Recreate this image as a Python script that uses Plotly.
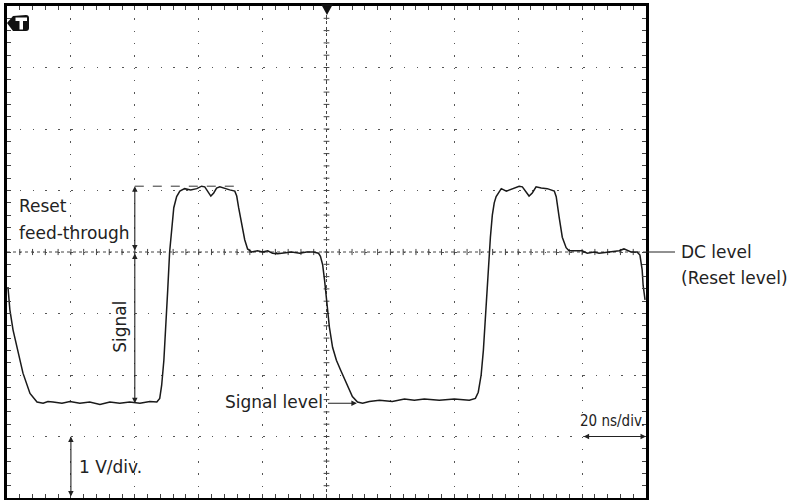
import plotly.graph_objects as go

# ---- data: time in ns, voltage in V ----
time_ns = [0.3, 0.9, 1.9, 3.4, 5.0, 7.2, 9.4, 11.3, 12.8, 14.4, 17.2, 19.7, 22.8, 25.9,
           29.1, 32.2, 35.3, 38.4, 41.6, 44.7, 46.9, 47.8, 48.4, 49.1, 49.7, 50.3, 50.9,
           51.6, 52.2, 53.1, 54.1, 55.6, 57.5, 59.4, 60.9, 61.9, 62.8, 63.8, 64.7, 65.6,
           66.6, 68.1, 69.7, 71.3, 71.9, 72.5, 73.4, 74.4, 75.3, 76.6, 78.4, 80.0, 81.6,
           83.1, 84.7, 86.9, 89.1, 91.6, 93.8, 95.9, 97.5, 98.1, 98.8, 99.4, 100.0, 100.9,
           101.9, 103.1, 104.4, 106.3, 108.1, 109.7, 111.3, 113.4, 116.6, 120.6, 124.4,
           127.5, 130.6, 135.3, 140.0, 144.7, 146.6, 147.5, 148.4, 149.1, 149.7, 150.3,
           150.9, 151.3, 151.9, 152.5, 153.1, 154.7, 156.3, 158.1, 160.3, 161.3, 162.5,
           163.4, 164.4, 165.6, 167.2, 169.1, 171.3, 171.9, 172.8, 173.8, 175.0, 175.9,
           178.1, 180.0, 181.6, 183.8, 185.3, 188.4, 191.6, 193.1, 195.3, 197.2, 198.1,
           198.8, 199.1, 199.7]
volts = [-0.57, -0.94, -1.27, -1.60, -1.97, -2.30, -2.44, -2.46, -2.43, -2.44, -2.46, -2.43,
         -2.46, -2.44, -2.48, -2.44, -2.46, -2.44, -2.46, -2.43, -2.44, -2.38, -2.17, -1.76,
         -1.27, -0.62, 0.00, 0.44, 0.72, 0.90, 0.99, 1.03, 1.01, 1.03, 1.07, 1.06, 0.98,
         0.91, 0.96, 1.04, 1.06, 1.03, 1.01, 0.99, 0.91, 0.72, 0.44, 0.20, 0.05, 0.00,
         0.02, 0.00, 0.02, -0.02, -0.03, -0.02, 0.00, -0.02, 0.00, 0.00, -0.02, -0.07,
         -0.21, -0.46, -0.78, -1.22, -1.55, -1.76, -1.92, -2.13, -2.35, -2.44, -2.46,
         -2.43, -2.41, -2.43, -2.39, -2.41, -2.39, -2.41, -2.39, -2.41, -2.38, -2.28,
         -2.00, -1.60, -1.11, -0.54, 0.00, 0.24, 0.60, 0.80, 0.90, 1.03, 0.99, 1.03,
         1.07, 1.06, 0.98, 0.91, 0.96, 1.06, 1.04, 1.03, 0.99, 0.90, 0.57, 0.24, 0.07,
         0.02, 0.02, 0.02, -0.02, 0.00, -0.02, 0.00, 0.02, 0.05, 0.00, 0.00, -0.05,
         -0.29, -0.54, -0.78]

x_range = [0, 200]          # 10 div x 20 ns/div
y_range = [-4, 4]           # 8 div x 1 V/div
reset_peak = 1.07
signal_level = -2.46
dc_level = 0.0

INK = "#222222"
FONT = "DejaVu Sans, Verdana, sans-serif"
NARROW = "DejaVu Sans Condensed, DejaVu Sans, sans-serif"

fig = go.Figure()
fig.add_trace(go.Scatter(x=time_ns, y=volts, mode="lines",
                         line=dict(color="#1a1a1a", width=1.5),
                         hoverinfo="skip", showlegend=False))

fig.update_layout(width=791, height=500, margin=dict(l=7, r=145, t=6, b=2),
                  paper_bgcolor="white", plot_bgcolor="white", showlegend=False)

fig.update_xaxes(range=x_range, tick0=0, dtick=20, showticklabels=False,
                 ticks="inside", ticklen=4, tickcolor="#444", tickwidth=1,
                 showgrid=True, gridcolor="#555", gridwidth=1.2, griddash="1.5px,10.8px",
                 zeroline=False, showline=True, linecolor="black", linewidth=3,
                 mirror="allticks",
                 minor=dict(dtick=4, ticks="inside", ticklen=4, tickcolor="#444",
                            showgrid=False))
fig.update_yaxes(range=y_range, tick0=-4, dtick=1, showticklabels=False,
                 ticks="inside", ticklen=4, tickcolor="#444", tickwidth=1,
                 showgrid=True, gridcolor="#555", gridwidth=1.2, griddash="1.5px,11.3px",
                 zeroline=False, showline=True, linecolor="black", linewidth=3,
                 mirror="allticks",
                 minor=dict(dtick=0.2, ticks="inside", ticklen=4, tickcolor="#444",
                            showgrid=False))

# center graticule lines with small tick marks
cx = (x_range[0] + x_range[1]) / 2
cy = (y_range[0] + y_range[1]) / 2
fig.add_shape(type="line", x0=cx, x1=cx, y0=y_range[0], y1=y_range[1],
              line=dict(color="#444", width=1, dash="dot"), layer="between")
fig.add_shape(type="line", x0=x_range[0], x1=x_range[1], y0=cy, y1=cy,
              line=dict(color="#444", width=1, dash="dot"), layer="between")
for k in range(1, 50):
    t = x_range[0] + 4 * k
    fig.add_shape(type="line", x0=t, x1=t, y0=cy - 0.05, y1=cy + 0.05,
                  line=dict(color="#444", width=1), layer="between")
for k in range(1, 40):
    v = y_range[0] + 0.2 * k
    fig.add_shape(type="line", x0=cx - 0.9, x1=cx + 0.9, y0=v, y1=v,
                  line=dict(color="#444", width=1), layer="between")

# pixel helpers for decorations in paper coordinates
def px(xp):
    return (xp - 7) / 639

def py(yp):
    return (498 - yp) / 492

# trigger position marker (top centre)
fig.add_shape(type="path", xref="paper", yref="paper",
              path=f"M {px(321)},{py(4)} L {px(333)},{py(4)} L {px(327)},{py(15)} Z",
              fillcolor="#111", line=dict(width=0))
# trigger level icon (top left)
fig.add_shape(type="path", xref="paper", yref="paper",
              path=(f"M {px(7)},{py(23)} L {px(13)},{py(16)} L {px(26)},{py(15)} "
                    f"Q {px(29)},{py(15)} {px(29)},{py(18)} L {px(29)},{py(28)} "
                    f"Q {px(29)},{py(31)} {px(26)},{py(31)} L {px(13)},{py(31)} Z"),
              fillcolor="#111", line=dict(width=0))
fig.add_shape(type="path", xref="paper", yref="paper",
              path=(f"M {px(15.5)},{py(17.5)} L {px(27)},{py(17.5)} L {px(27)},{py(21)} "
                    f"L {px(23)},{py(21)} L {px(23)},{py(29.5)} L {px(19.5)},{py(29.5)} "
                    f"L {px(19.5)},{py(21)} L {px(15.5)},{py(21)} Z"),
              fillcolor="white", line=dict(width=0))

# dashed peak line for reset feed-through
fig.add_shape(type="line", x0=40, x1=72, y0=reset_peak, y1=reset_peak,
              line=dict(color="#333", width=1, dash="dash"))

# DC level leader line
fig.add_shape(type="line", xref="paper", yref="y", x0=1.0, x1=px(675),
              y0=dc_level, y1=dc_level, line=dict(color=INK, width=1))

def double_arrow(x, y, ax, ay):
    fig.add_annotation(x=x, y=y, ax=ax, ay=ay, xref="x", yref="y", axref="x", ayref="y",
                       text="", showarrow=True, arrowside="end+start", arrowhead=2,
                       arrowsize=1, arrowwidth=1.1, arrowcolor=INK)

double_arrow(40, reset_peak, 40, dc_level)
double_arrow(40, signal_level, 40, dc_level)
double_arrow(20, -3, 20, -4)
double_arrow(200, -3, 180, -3)

fig.add_annotation(x=109.5, y=signal_level, ax=100, ay=signal_level,
                   xref="x", yref="y", axref="x", ayref="y", text="", showarrow=True,
                   arrowhead=2, arrowsize=1, arrowwidth=1.1, arrowcolor=INK)

def label(x, y, text, xanchor="left", size=17, angle=0, xref="x", family=FONT):
    fig.add_annotation(x=x, y=y, xref=xref, yref="y", text=text, showarrow=False,
                       xanchor=xanchor, yanchor="middle", textangle=angle,
                       font=dict(family=family, size=size, color=INK))

label(3.2, 0.74, "Reset")
label(3.2, 0.31, "feed-through")
label(35.3, -1.22, "Signal", xanchor="center", angle=-90)
label(99.6, -2.44, "Signal level", xanchor="right")
label(22.0, -3.5, "1 V/div.")
label(189.5, -2.74, "20 ns/div.", xanchor="center", size=15, family=NARROW)
label(px(679), 0.0, "DC level", xref="paper")
label(px(679), -0.42, "(Reset level)", xref="paper")

fig.write_html("out.html")
